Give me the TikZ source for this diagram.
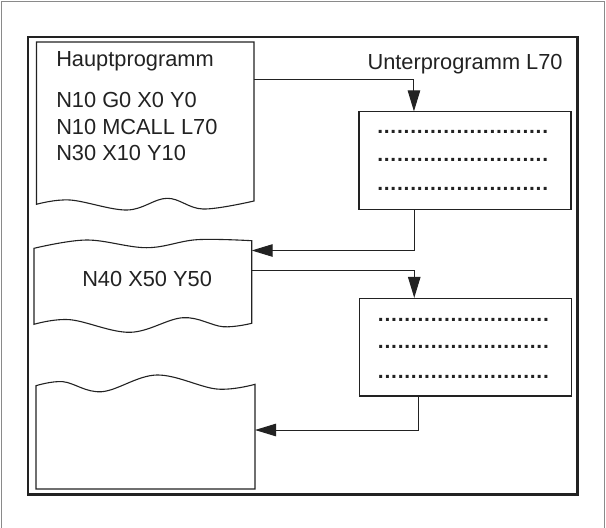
\documentclass[tikz,border=0pt]{standalone}
\usepackage{fontspec}
\setmainfont{Liberation Sans}
\usetikzlibrary{arrows.meta, calc}
\definecolor{cline}{HTML}{222222}
\definecolor{cedge}{HTML}{8A8A8A}
\newcommand{\dotrow}{\makebox[178.2pt]{\leaders\hbox to 6.6pt{\hss.\hss}\hfill}}
\tikzset{
  every picture/.style={x=1pt, y=-1pt, line width=1.1pt, draw=cline},
  title/.style={anchor=base west, inner sep=0pt, font=\fontsize{21.8}{26}\selectfont, text=cline},
  code/.style={anchor=base west, inner sep=0pt, font=\fontsize{21.8}{26}\selectfont, text=cline},
  subbox/.style={draw=cline, minimum width=212pt, minimum height=97.6pt, inner sep=0pt},
  dots/.style={anchor=base, inner sep=0pt, font=\fontsize{21}{26}\selectfont\bfseries, text=cline},
  paper/.style={draw=cline, line width=1.1pt},
  arrow/.style={-{Triangle[length=21pt, width=12.5pt]}, draw=cline, line width=1pt},
}

\begin{document}
\begin{tikzpicture}
  \useasboundingbox (0,0) rectangle (606,528);
  % outer border and frame
  \draw[cedge, line width=1pt] (1.5,528) -- (1.5,1.5) -- (604.5,1.5) -- (604.5,528);
  \draw[cline, line width=2.6pt] (28,37) rectangle (577.5,494.5);
  % main program sheets
  \draw[paper] plot[smooth, tension=0.6] coordinates {(254,201) (203,209) (167,198.3) (127,210) (70,200) (36.5,204.3)}
    -- (36.5,42) -- (254,42) -- cycle;
  \draw[paper] plot[smooth, tension=0.6] coordinates {(34,248.3) (86.7,240) (146.7,247.7) (196.7,239.7) (251.7,240.7)}
    -- plot[smooth, tension=0.6] coordinates {(251.7,323.3) (223,326.7) (183,317.7) (130,332.3) (70,319.7) (34,324.3)} -- cycle;
  \draw[paper] plot[smooth, tension=0.6] coordinates {(36,385.7) (63,381.7) (101.7,391.7) (156.7,375) (216.7,389) (255,384.3)}
    -- (255,489) -- (36,489) -- cycle;
  \node[title] (main-title) at (55.7,66) {Hauptprogramm};
  \node[code] (code1) at (55.7,107.7) {N10 G0 X0 Y0};
  \node[code] (code2) at (55.7,134.2) {N10 MCALL L70};
  \node[code] (code3) at (55.7,160.8) {N30 X10 Y10};
  \node[code] (code4) at (81.7,286.7) {N40 X50 Y50};
  % subprogram
  \node[title] (sub-title) at (367,69.7) {Unterprogramm L70};
  \node[subbox] (sub1) at (465,160.7) {};
  \node[subbox] (sub2) at (465.8,347.2) {};
  \foreach \y [count=\i] in {132,160,189}
    \node[dots] (sub1-dots\i) at (466,\y+1.4) {\dotrow};
  \foreach \y [count=\i] in {320,346.7,376.7}
    \node[dots] (sub2-dots\i) at (466.7,\y+1.4) {\dotrow};
  % calls and returns
  \coordinate (main1-out) at (254,79);
  \coordinate (main2-in) at (251.7,250.5);
  \coordinate (main2-out) at (251.7,270);
  \coordinate (main3-in) at (255,430);
  \coordinate (sub1-in) at ($(sub1.north west)+(55.5,0)$);
  \coordinate (sub1-out) at ($(sub1.south west)+(55.8,0)$);
  \coordinate (sub2-in) at ($(sub2.north west)+(55,0)$);
  \coordinate (sub2-out) at ($(sub2.south west)+(59,0)$);
  \draw[arrow] (main1-out) -| (sub1-in);
  \draw[arrow] (sub1-out) |- (main2-in);
  \draw[arrow] (main2-out) -| (sub2-in);
  \draw[arrow] (sub2-out) |- (main3-in);
\end{tikzpicture}
\end{document}
